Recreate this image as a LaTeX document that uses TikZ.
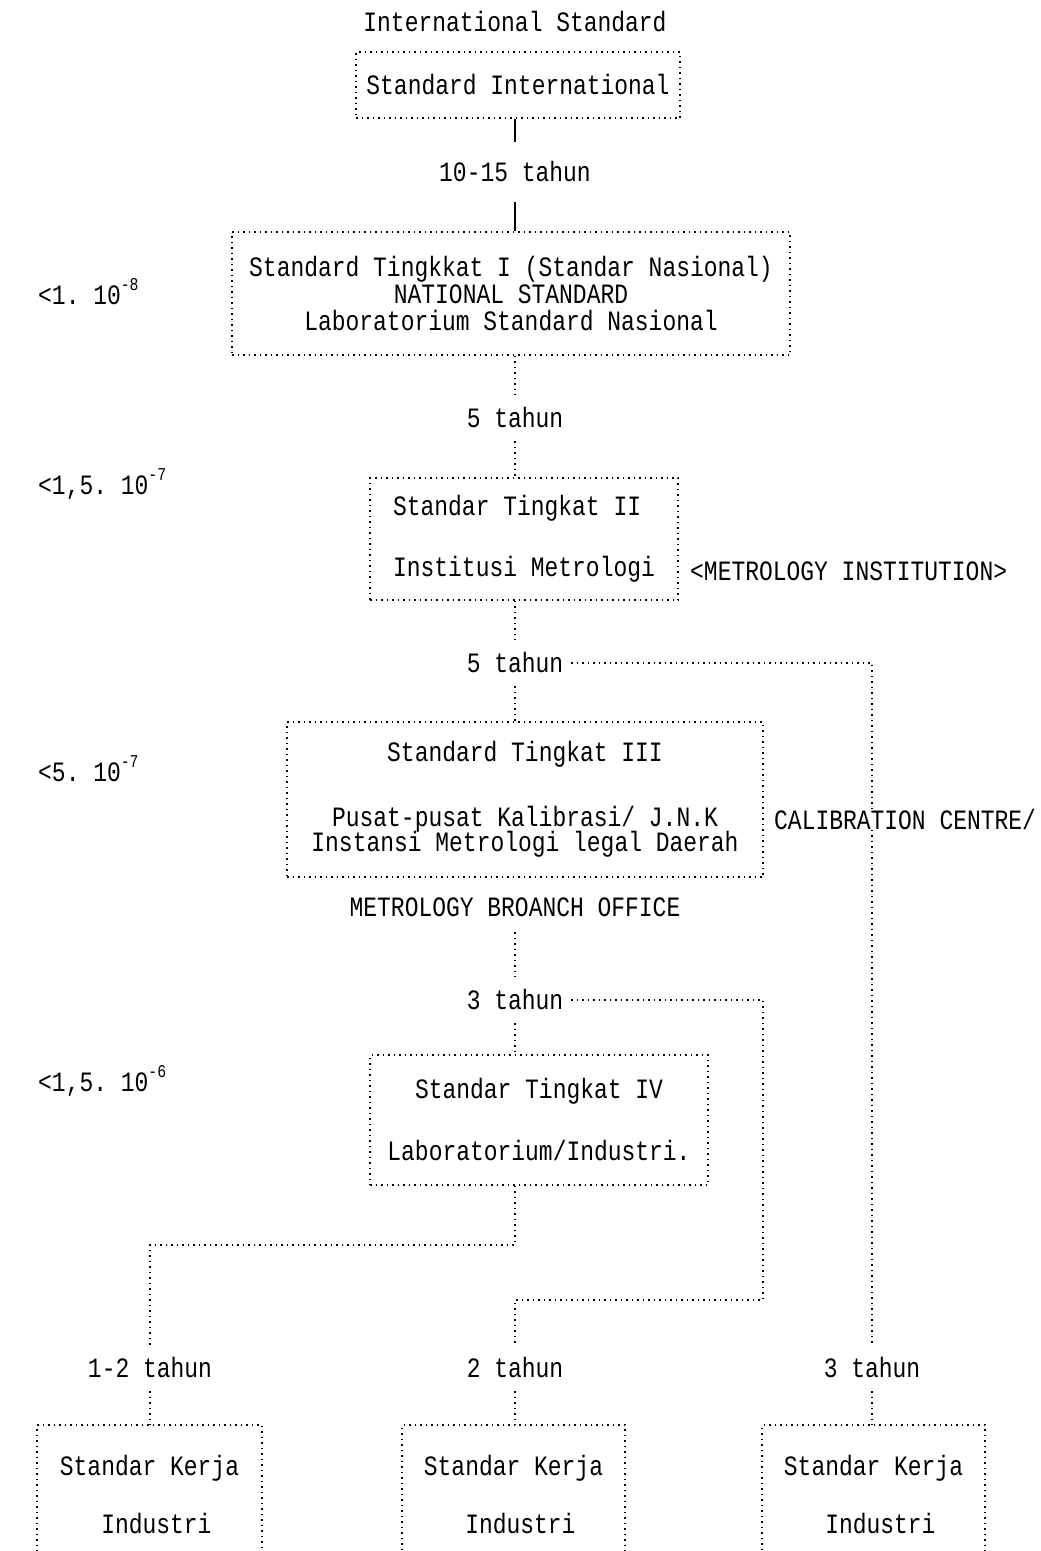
\documentclass[tikz,border=0pt]{standalone}
\usepackage{fontspec}
\setmainfont{Liberation Mono}[FakeStretch=0.82]
\newcommand\mainfs{\fontsize{28}{27}\selectfont}
\newcommand\supfs{\fontsize{18}{18}\selectfont}
\newcommand\expo[1]{\raisebox{0.5em}{\supfs#1}}
\begin{document}
\begin{tikzpicture}[x=1pt,y=-1pt,
  dotln/.style={line width=1.5pt, dash pattern=on 1.5pt off 4pt},
  solidln/.style={line width=1.8pt},
  box/.style={draw, dotln, inner sep=0pt, align=center, font=\mainfs},
  lbl/.style={inner sep=0pt, font=\mainfs, text height=19pt, text depth=0pt},
  tl/.style={lbl, minimum height=46pt, inner xsep=8pt}]
\useasboundingbox[fill=white] (0,0) rectangle (1041,1551);

% title
\node[lbl] (title) at (515,22) {International Standard};

% boxes
\node[box, minimum width=324pt, minimum height=66pt] (b1) at (518,85) {Standard International};
\node[box, minimum width=558pt, minimum height=123pt] (b2) at (511,293.5)
  {Standard Tingkkat I (Standar Nasional)\\NATIONAL STANDARD\\Laboratorium Standard Nasional};
\node[box, align=left, minimum width=308pt, minimum height=122pt] (b3) at (524,539)
  {Standar Tingkat II\\[34pt]Institusi Metrologi};
\node[box, minimum width=476pt, minimum height=155pt] (b4) at (525,799.5)
  {Standard Tingkat III\\[38pt]Pusat-pusat Kalibrasi/ J.N.K\\[-2pt]Instansi Metrologi legal Daerah};
\node[box, minimum width=338pt, minimum height=130pt] (b5) at (539,1120)
  {Standar Tingkat IV\\[35pt]Laboratorium/Industri.};
\node[box, align=left, minimum width=225pt, minimum height=140pt] (bA) at (149.5,1495)
  {Standar Kerja\\[31pt]\phantom{Sta}Industri};
\node[box, align=left, minimum width=223pt, minimum height=140pt] (bB) at (513.5,1495)
  {Standar Kerja\\[31pt]\phantom{Sta}Industri};
\node[box, align=left, minimum width=223pt, minimum height=140pt] (bC) at (873.5,1495)
  {Standar Kerja\\[31pt]\phantom{Sta}Industri};

% interval labels
\node[tl, minimum height=60pt] (t1) at (515,172) {10-15 tahun};
\node[tl] (t5a) at (515,418) {5 tahun};
\node[tl] (t5b) at (515,663) {5 tahun};
\node[tl, minimum height=50pt] (mbo) at (515,907) {METROLOGY BROANCH OFFICE};
\node[tl] (t3a) at (515,1000) {3 tahun};
\node[tl] (t12) at (150,1368) {1-2 tahun};
\node[tl] (t2) at (515,1368) {2 tahun};
\node[tl] (t3c) at (872,1368) {3 tahun};

% accuracy labels
\node[lbl, anchor=west] (a1) at (38,295) {<1.~10\expo{-8}};
\node[lbl, anchor=west] (a2) at (38,485) {<1,5.~10\expo{-7}};
\node[lbl, anchor=west] (a3) at (38,772) {<5.~10\expo{-7}};
\node[lbl, anchor=west] (a4) at (38,1082) {<1,5.~10\expo{-6}};

% side labels
\node[lbl, anchor=west] (mi) at (690,571) {<METROLOGY INSTITUTION>};

% connectors
\draw[solidln] (b1.south -| t1) -- (t1.north);
\draw[solidln] (t1.south) -- (t1.south |- b2.north);
\draw[dotln] (b2.south -| t5a) -- (t5a.north);
\draw[dotln] (t5a.south) -- (t5a.south |- b3.north);
\draw[dotln] (b3.south -| t5b) -- (t5b.north);
\draw[dotln] (t5b.south) -- (t5b.south |- b4.north);
\draw[dotln] (t5b.east) -| (t3c.north);
\draw[dotln] (mbo.south) -- (t3a.north);
\draw[dotln] (t3a.south) -- (t3a.south |- b5.north);
\coordinate (k1) at (763,1300);
\draw[dotln] (t3a.east) -| (k1) -| (t2.north);
\coordinate (k2) at (150,1245);
\draw[dotln] (b5.south -| t3a) |- (k2) -- (t12.north);
\draw[dotln] (t12.south) -- (t12.south |- bA.north);
\draw[dotln] (t2.south) -- (t2.south |- bB.north);
\draw[dotln] (t3c.south) -- (t3c.south |- bC.north);

\node[lbl, anchor=west, fill=white, inner xsep=2pt] (cc) at (772,820) {CALIBRATION CENTRE/};
\end{tikzpicture}
\end{document}
